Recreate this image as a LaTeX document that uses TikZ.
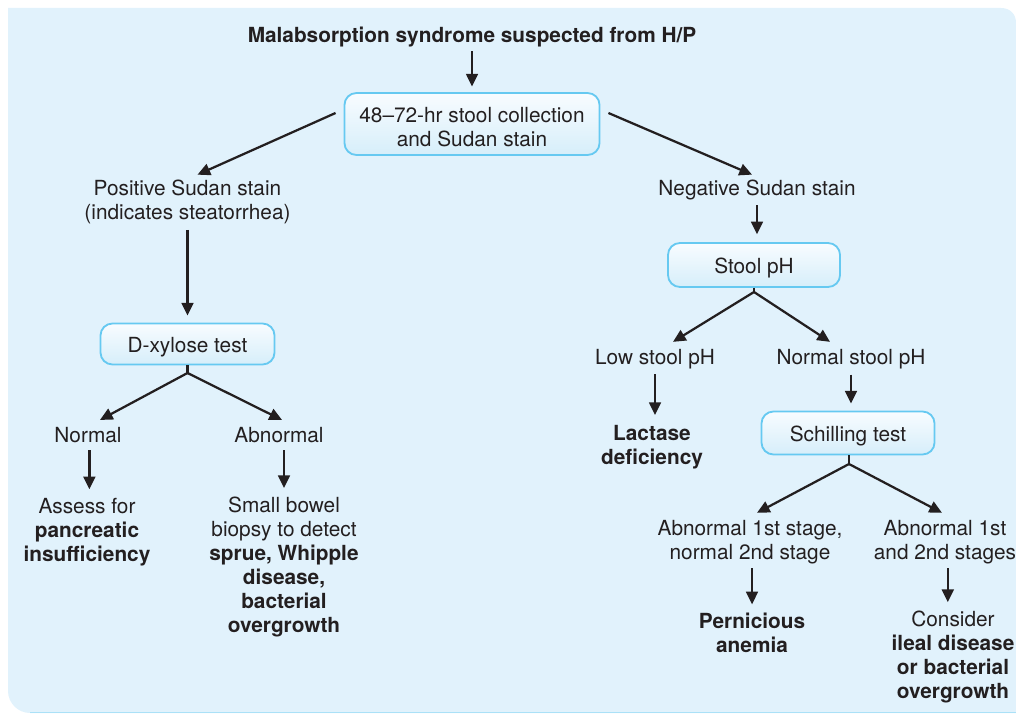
\documentclass[tikz,border=0pt]{standalone}
\usepackage{fontspec}
\setmainfont{TeX Gyre Heros}
\usetikzlibrary{arrows.meta}
\definecolor{bg}{HTML}{E1F2FC}
\definecolor{ink}{HTML}{231F20}
\definecolor{boxline}{HTML}{66C9F1}
\definecolor{boxtop}{HTML}{F8FCFF}
\definecolor{boxbot}{HTML}{D6EEFA}
\newcommand{\boxstrut}{\rule{0pt}{14.8pt}}
\begin{document}
\begin{tikzpicture}[x=0.025cm,y=-0.025cm,
  txt/.style={align=center, inner sep=0pt, text=ink, font=\fontsize{14.8}{17.1}\selectfont},
  lbl/.style={txt, yshift=-1.4pt},
  boxnode/.style={txt, draw=boxline, line width=1.3pt, rounded corners=0.3cm, top color=boxtop, bottom color=boxbot},
  arr/.style={draw=ink, line width=1.6pt, -{Triangle[length=9pt,width=8.4pt]}},
  seg/.style={draw=ink, line width=1.6pt},
]
\useasboundingbox (0,0) rectangle (1016,715);
% background panel
\fill[bg] (8,8) -- (1001,8) .. controls (1010,8) and (1016,14) .. (1016,23)
  -- (1016,713) -- (30,713) .. controls (18,713) and (8,703) .. (8,691) -- cycle;
\draw[boxline!55, line width=1pt] (30,712.5) -- (1016,712.5);

% nodes
\node[lbl] (title) at (472,35) {\textbf{Malabsorption syndrome suspected from H/P}};
\node[boxnode, minimum width=6.375cm, minimum height=1.55cm] (stool) at (472,124) {\boxstrut 48–72-hr stool collection\\and Sudan stain};
\node[lbl] (pos) at (187.5,200) {Positive Sudan stain\\(indicates steatorrhea)};
\node[lbl] (neg) at (757,188) {Negative Sudan stain};
\node[boxnode, minimum width=4.35cm, minimum height=1.025cm] (dx) at (187.5,344) {\boxstrut D-xylose test};
\node[lbl] (normal) at (88,433) {Normal};
\node[lbl] (abn) at (279,433) {Abnormal};
\node[lbl] (assess) at (87,530) {Assess for\\\textbf{pancreatic}\\\textbf{insufficiency}};
\node[lbl] (biopsy) at (284,565) {Small bowel\\biopsy to detect\\\textbf{sprue, Whipple}\\\textbf{disease,}\\\textbf{bacterial}\\\textbf{overgrowth}};
\node[boxnode, minimum width=4.3cm, minimum height=1.1cm] (ph) at (754,265) {\boxstrut Stool pH};
\node[lbl] (low) at (655,357) {Low stool pH};
\node[lbl] (nph) at (851,357) {Normal stool pH};
\node[lbl] (lact) at (652,445) {\textbf{Lactase}\\\textbf{deficiency}};
\node[boxnode, minimum width=4.325cm, minimum height=1.075cm] (sch) at (848,433) {\boxstrut Schilling test};
\node[lbl] (ab1) at (750,540) {Abnormal 1st stage,\\normal 2nd stage};
\node[lbl] (ab12) at (945,540) {Abnormal 1st\\and 2nd stages};
\node[lbl] (pa) at (752,631) {\textbf{Pernicious}\\\textbf{anemia}};
\node[lbl] (cons) at (953,655) {Consider\\\textbf{ileal disease}\\\textbf{or bacterial}\\\textbf{overgrowth}};

% branch apexes
\coordinate (dxa) at (187.5,373);
\coordinate (pha) at (754,292);
\coordinate (scha) at (849,464);

% connectors
\draw[arr, shorten <=3pt, shorten >=4pt] (title.south) -- (stool.north);
\draw[arr] ([shift={(-8,-11)}]stool.west) -- ([shift={(10,-5)}]pos.north);
\draw[arr] ([shift={(8,-11)}]stool.east) -- ([shift={(-5,-5)}]neg.north);
\draw[arr, shorten <=4pt, shorten >=5pt] (pos.south) -- (dx.north);
\draw[arr, shorten <=3.5pt, shorten >=5.5pt] (neg.south) -- (neg.south |- ph.north);

\draw[seg] (dx.south) -- (dxa);
\draw[arr] (dxa) -- ([shift={(12,-7)}]normal.north);
\draw[arr] (dxa) -- ([shift={(3,-7)}]abn.north);
\draw[arr, shorten <=5pt, shorten >=6pt] ([xshift=1pt]normal.south) -- ([xshift=1pt]normal.south |- assess.north);
\draw[arr, shorten <=5pt, shorten >=6pt] (abn.south -| biopsy.north) -- (biopsy.north);

\draw[seg] (ph.south) -- (pha);
\draw[arr] (pha) -- ([shift={(18,-7)}]low.north);
\draw[arr] (pha) -- ([shift={(-21,-7)}]nph.north);
\draw[arr, shorten <=3.5pt, shorten >=7pt] (low.south) -- (low.south |- lact.north);
\draw[arr, shorten <=4pt, shorten >=5pt] (nph.south) -- (nph.south |- sch.north);

\draw[seg] (scha |- sch.south) -- (scha);
\draw[arr] (scha) -- ([shift={(7,-7)}]ab1.north);
\draw[arr] (scha) -- ([shift={(-3,-7)}]ab12.north);
\draw[arr, shorten <=3pt, shorten >=6pt] (ab1.south -| pa.north) -- (pa.north);
\draw[arr, shorten <=3pt, shorten >=6pt] ([xshift=2pt]ab12.south) -- ([xshift=2pt]ab12.south |- cons.north);
\end{tikzpicture}
\end{document}
